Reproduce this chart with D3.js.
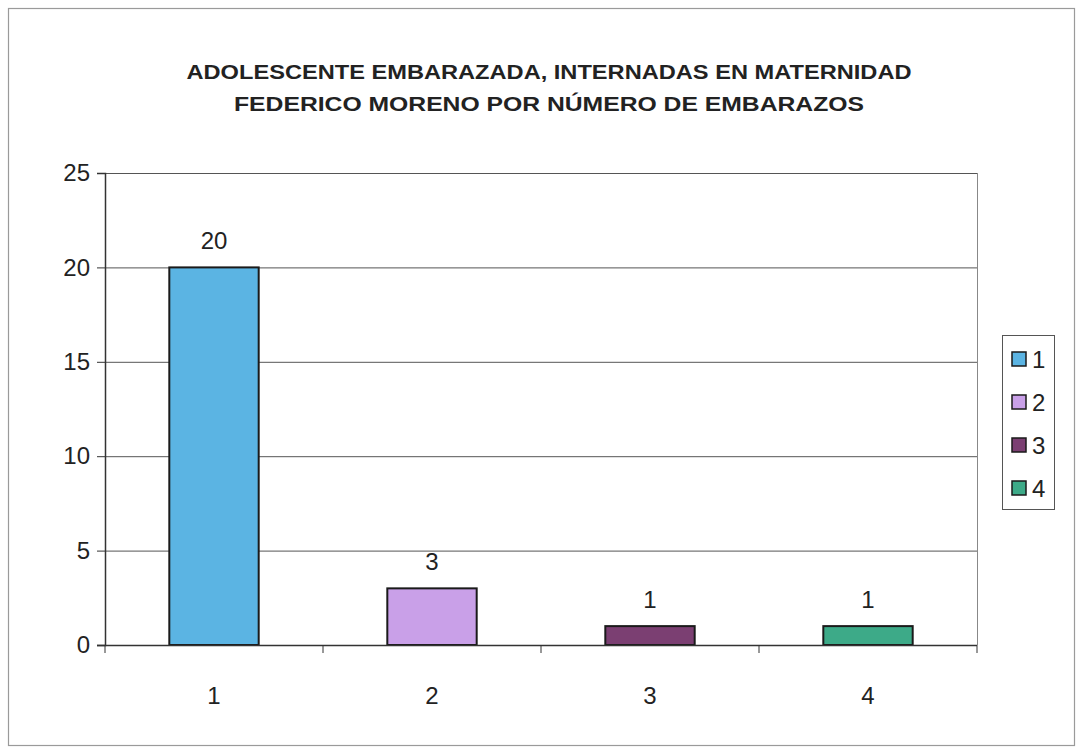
<!DOCTYPE html>
<html>
<head>
<meta charset="utf-8">
<script src="https://cdn.jsdelivr.net/npm/d3@7"></script>
<style>
  body { margin: 0; background: #fff; }
  text { font-family: "Liberation Sans", Arial, sans-serif; fill: #222; }
</style>
</head>
<body>
<div class="chart"></div>
<script>
// data
var categories = ["1", "2", "3", "4"];
var values = [20, 3, 1, 1];
var colors = ["#5bb4e3", "#c9a0e8", "#7b3f72", "#3daa88"];
var yTicks = [0, 5, 10, 15, 20, 25];
var titleLines = ["ADOLESCENTE EMBARAZADA, INTERNADAS EN MATERNIDAD",
                  "FEDERICO MORENO POR NÚMERO DE EMBARAZOS"];

var W = 1082, H = 753;
var plot = {left: 105, right: 977, top: 173, bottom: 645};

var svg = d3.select("div.chart")
            .append("svg")
            .attr("width", W)
            .attr("height", H);

// outer frame
svg.append("rect")
   .attr("x", 8.5).attr("y", 8.5)
   .attr("width", 1066).attr("height", 737)
   .attr("fill", "#fff")
   .attr("stroke", "#9a9a9a")
   .attr("stroke-width", 1.2);

// title
svg.selectAll(".title")
   .data(titleLines)
   .enter()
   .append("text")
   .attr("class", "title")
   .attr("x", 549)
   .attr("y", function(d, i){ return 79 + i * 32; })
   .attr("text-anchor", "middle")
   .attr("font-size", 21)
   .attr("font-weight", "bold")
   .attr("textLength", function(d, i){ return i == 0 ? 725 : 630; })
   .attr("lengthAdjust", "spacingAndGlyphs")
   .text(function(d){ return d; });

var x = d3.scaleBand()
          .domain(categories)
          .range([plot.left, plot.right])
          .paddingInner(0.59)
          .paddingOuter(0.295);

var y = d3.scaleLinear()
          .domain([0, 25])
          .range([plot.bottom, plot.top]);

// gridlines
svg.append("g")
   .selectAll("line")
   .data(yTicks.filter(function(d){ return d > 0; }))
   .enter()
   .append("line")
   .attr("x1", plot.left).attr("x2", plot.right)
   .attr("y1", function(d){ return y(d) + 0.5; })
   .attr("y2", function(d){ return y(d) + 0.5; })
   .attr("stroke", "#555")
   .attr("stroke-width", 1);

// right border of plot area
svg.append("line")
   .attr("x1", plot.right + 0.5).attr("x2", plot.right + 0.5)
   .attr("y1", plot.top).attr("y2", plot.bottom)
   .attr("stroke", "#888");

// bars
svg.selectAll(".bar")
   .data(values)
   .enter()
   .append("rect")
   .attr("class", "bar")
   .attr("x", function(d, i){ return x(categories[i]); })
   .attr("y", function(d){ return y(d); })
   .attr("width", x.bandwidth())
   .attr("height", function(d){ return y(0) - y(d); })
   .attr("fill", function(d, i){ return colors[i]; })
   .attr("stroke", "#1a1a1a")
   .attr("stroke-width", 2);

// value labels
svg.selectAll(".val")
   .data(values)
   .enter()
   .append("text")
   .attr("class", "val")
   .attr("x", function(d, i){ return x(categories[i]) + x.bandwidth() / 2; })
   .attr("y", function(d){ return y(d) - 18; })
   .attr("text-anchor", "middle")
   .attr("font-size", 24)
   .text(function(d){ return d; });

// y axis
var yAxis = svg.append("g")
   .attr("transform", "translate(" + plot.left + ",0)")
   .call(d3.axisLeft(y).tickValues(yTicks).tickSize(8).tickPadding(7));
yAxis.select(".domain").attr("stroke", "#333").attr("stroke-width", 1.5);
yAxis.selectAll(".tick line").attr("stroke", "#333");
yAxis.selectAll(".tick text").attr("font-size", 24).attr("fill", "#222")
     .attr("font-family", "Liberation Sans, Arial, sans-serif");

// x axis with ticks between categories
var xAxis = svg.append("g")
   .attr("transform", "translate(0," + plot.bottom + ")");
xAxis.append("line")
     .attr("x1", plot.left - 8).attr("x2", plot.right)
     .attr("y1", 0.5).attr("y2", 0.5)
     .attr("stroke", "#333").attr("stroke-width", 1.5);
var step = x.step();
xAxis.selectAll(".xt")
     .data(d3.range(categories.length + 1))
     .enter()
     .append("line")
     .attr("x1", function(i){ return plot.left + i * step; })
     .attr("x2", function(i){ return plot.left + i * step; })
     .attr("y1", 0).attr("y2", 8)
     .attr("stroke", "#333");
xAxis.selectAll(".xl")
     .data(categories)
     .enter()
     .append("text")
     .attr("x", function(d){ return x(d) + x.bandwidth() / 2; })
     .attr("y", 59)
     .attr("text-anchor", "middle")
     .attr("font-size", 24)
     .text(function(d){ return d; });

// legend
var legend = svg.append("g").attr("transform", "translate(1002,335)");
legend.append("rect")
      .attr("x", 0.5).attr("y", 0.5)
      .attr("width", 52).attr("height", 174)
      .attr("fill", "#fff")
      .attr("stroke", "#555");
var item = legend.selectAll(".item")
      .data(categories)
      .enter()
      .append("g")
      .attr("transform", function(d, i){ return "translate(10," + (17 + i * 43) + ")"; });
item.append("rect")
    .attr("width", 14).attr("height", 14)
    .attr("fill", function(d, i){ return colors[i]; })
    .attr("stroke", "#1a1a1a")
    .attr("stroke-width", 1.5);
item.append("text")
    .attr("x", 20).attr("y", 16)
    .attr("font-size", 24)
    .text(function(d){ return d; });
</script>
</body>
</html>
